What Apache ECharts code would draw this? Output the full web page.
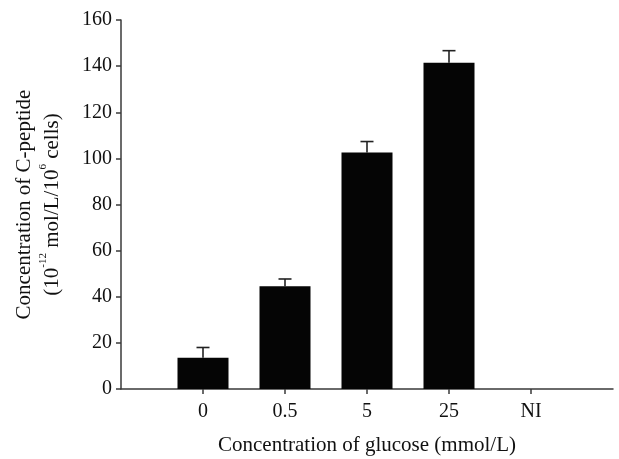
<!DOCTYPE html>
<html><head><meta charset="utf-8">
<script src="https://cdn.jsdelivr.net/npm/echarts@6/dist/echarts.min.js"></script>
<style>html,body{margin:0;padding:0;background:#fff}#c{width:619px;height:459px}</style>
</head><body><div id="c"></div>
<script>
const categories = ['', '0', '0.5', '5', '25', 'NI', ''];
const means = [null, 13.5, 44.5, 102.5, 141.5, null, null];
const errors = [null, 4.5, 3.2, 4.8, 5.2, null, null];
const yTicks = [0, 20, 40, 60, 80, 100, 120, 140, 160];

const font = 'Liberation Serif, Times New Roman, serif';
const axisCol = '#3a3a3a';
const chart = echarts.init(document.getElementById('c'));
const errData = means.map((m, i) => (m == null ? null : [i, m, m + errors[i]])).filter(d => d);

chart.setOption({
  backgroundColor: '#fff',
  animation: false,
  grid: { left: 121, top: 20, right: 6, bottom: 70, containLabel: false, outerBoundsMode: 'none' },
  xAxis: {
    type: 'category', data: categories, boundaryGap: false,
    axisLine: { lineStyle: { color: axisCol, width: 1.5 } },
    axisTick: { show: true, length: 5, inside: false, lineStyle: { color: axisCol, width: 1.5 },
      interval: (i, v) => v !== '' },
    axisLabel: { color: '#111', fontFamily: font, fontSize: 20, margin: 13, interval: 0 },
    name: 'Concentration of glucose (mmol/L)', nameLocation: 'middle', nameGap: 46,
    nameTextStyle: { color: '#111', fontFamily: font, fontSize: 21 }
  },
  yAxis: {
    type: 'value', min: 0, max: 160, interval: 20,
    axisLine: { show: true, lineStyle: { color: axisCol, width: 1.5 } },
    axisTick: { show: true, length: 5, lineStyle: { color: axisCol, width: 1.5 } },
    splitLine: { show: false },
    axisLabel: { color: '#111', fontFamily: font, fontSize: 20, margin: 9,
      formatter: v => (yTicks.indexOf(v) >= 0 ? String(v) : '') },
    name: '{a|Concentration of C-peptide}\n{a|(10}{s|-12}{a| mol/L/10}{s|6}{a| cells)}',
    nameLocation: 'middle', nameGap: 55, nameRotate: 90,
    nameTextStyle: { color: '#111', fontFamily: font, fontSize: 21, lineHeight: 28,
      rich: { a: { fontFamily: font, fontSize: 21, color: '#111', lineHeight: 28 },
              s: { fontFamily: font, fontSize: 11, color: '#111', verticalAlign: 'top', lineHeight: 14 } } }
  },
  series: [
    { type: 'bar', data: means, barWidth: 51, itemStyle: { color: '#050505' } },
    { type: 'custom', data: errData, z: 1,
      renderItem: (params, api) => {
        const base = api.coord([api.value(0), api.value(1)]);
        const top = api.coord([api.value(0), api.value(2)]);
        const cap = 6.5;
        return { type: 'group', children: [
          { type: 'line', shape: { x1: base[0], y1: base[1], x2: top[0], y2: top[1] }, style: { stroke: '#222', lineWidth: 1.6 } },
          { type: 'line', shape: { x1: top[0] - cap, y1: top[1], x2: top[0] + cap, y2: top[1] }, style: { stroke: '#222', lineWidth: 1.6 } }
        ] };
      } }
  ]
});
</script></body></html>
